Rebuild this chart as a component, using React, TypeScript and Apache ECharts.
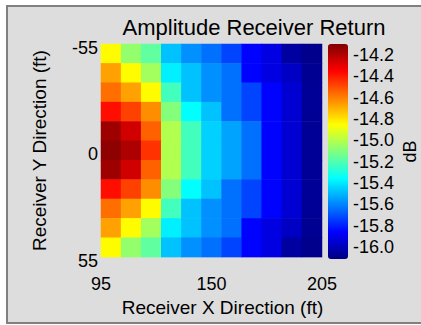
import React, { useEffect, useRef } from "react";
import * as echarts from "echarts";

// Receiver grid positions (ft)
const xValues = [95, 106, 117, 128, 139, 150, 161, 172, 183, 194, 205];
const yValues = [-55, -44, -33, -22, -11, 0, 11, 22, 33, 44, 55];
const xTickLabels = [95, 150, 205];
const colorbarTicks = [-14.2, -14.4, -14.6, -14.8, -15.0, -15.2, -15.4, -15.6, -15.8, -16.0];

// Amplitude (dB); rows from y = -55 (top) to y = 55 (bottom), columns x = 95 .. 205
const rowYm55 = [-14.88, -15.1, -15.2, -15.51, -15.61, -15.67, -15.76, -15.89, -15.95, -16.08, -16.12];
const rowYm44 = [-14.7, -14.88, -15.07, -15.42, -15.51, -15.61, -15.67, -15.89, -15.95, -16.01, -16.11];
const rowYm33 = [-14.6, -14.7, -14.88, -15.26, -15.51, -15.61, -15.67, -15.76, -15.89, -15.98, -16.1];
const rowYm22 = [-14.41, -14.51, -14.66, -15.13, -15.39, -15.51, -15.67, -15.76, -15.89, -15.98, -16.1];
const rowYm11 = [-14.19, -14.29, -14.57, -15.04, -15.26, -15.48, -15.57, -15.67, -15.89, -15.98, -16.1];
const rowY0 = [-14.16, -14.22, -14.48, -15.04, -15.26, -15.48, -15.57, -15.67, -15.89, -15.98, -16.1];
const rowY11 = [-14.19, -14.29, -14.57, -15.04, -15.26, -15.48, -15.57, -15.67, -15.89, -15.98, -16.1];
const rowY22 = [-14.41, -14.51, -14.66, -15.13, -15.39, -15.51, -15.67, -15.76, -15.89, -15.98, -16.1];
const rowY33 = [-14.6, -14.7, -14.88, -15.26, -15.51, -15.61, -15.67, -15.76, -15.89, -15.98, -16.1];
const rowY44 = [-14.7, -14.88, -15.07, -15.42, -15.51, -15.61, -15.67, -15.89, -15.95, -16.01, -16.11];
const rowY55 = [-14.88, -15.1, -15.2, -15.51, -15.61, -15.67, -15.76, -15.89, -15.95, -16.08, -16.12];
const amplitudeRows = [rowYm55, rowYm44, rowYm33, rowYm22, rowYm11, rowY0, rowY11, rowY22, rowY33, rowY44, rowY55];

const colorMin = -16.145;
const colorMax = -14.13;
const jetColors = ["#000080", "#0000ff", "#0080ff", "#00ffff", "#80ff80", "#ffff00", "#ff8000", "#ff0000", "#800000"];

const FONT = "'Liberation Sans', Arial, sans-serif";

export default function App() {
  const ref = useRef<HTMLDivElement>(null);
  useEffect(() => {
    if (!ref.current) return;
    const chart = echarts.init(ref.current, undefined, { renderer: "svg" });
    const data: number[][] = [];
    amplitudeRows.forEach((row, yi) => row.forEach((v, xi) => data.push([xi, yi, v])));
    chart.setOption({
      animation: false,
      backgroundColor: "#dddddd",
      textStyle: { fontFamily: FONT },
      grid: [
        { left: 93, top: 37, width: 221, height: 215, containLabel: false },
        { left: 320, top: 37, width: 20, height: 215, containLabel: false },
      ],
      graphic: [
        {
          type: "text",
          x: 246,
          y: 20,
          style: {
            text: "Amplitude Receiver Return",
            fontSize: 22,
            fontFamily: FONT,
            fill: "#000",
            align: "center",
            verticalAlign: "middle",
          },
        },
      ],
      xAxis: [
        { type: "category", gridIndex: 0, data: xValues.map(String), show: false, position: "top" },
        {
          type: "value",
          gridIndex: 0,
          min: 95,
          max: 205,
          position: "bottom",
          axisLine: { show: false },
          axisTick: { show: false },
          splitLine: { show: false },
          axisLabel: { customValues: xTickLabels, fontSize: 18, color: "#000", margin: 18, fontFamily: FONT },
          name: "Receiver X Direction (ft)",
          nameLocation: "middle",
          nameGap: 28,
          nameTextStyle: { fontSize: 19, color: "#000", fontFamily: FONT, padding: [0, 0, 0, 22] },
        },
        { type: "value", gridIndex: 1, show: false, min: 0, max: 1 },
      ],
      yAxis: [
        { type: "category", gridIndex: 0, data: yValues.map(String), inverse: true, show: false, position: "right" },
        {
          type: "value",
          gridIndex: 0,
          min: -55,
          max: 55,
          interval: 55,
          inverse: true,
          position: "left",
          axisLine: { show: false },
          axisTick: { show: false },
          splitLine: { show: false },
          axisLabel: {
            fontSize: 18,
            color: "#000",
            margin: 3,
            verticalAlign: "top",
            lineHeight: 7,
            fontFamily: FONT,
          },
          name: "Receiver Y Direction (ft)",
          nameLocation: "middle",
          nameGap: 52,
          nameTextStyle: { fontSize: 19, color: "#000", fontFamily: FONT },
        },
        {
          type: "value",
          gridIndex: 1,
          min: colorMin,
          max: colorMax,
          position: "right",
          axisLine: { show: false },
          axisTick: { show: false },
          splitLine: { show: false },
          axisLabel: {
            customValues: colorbarTicks,
            formatter: (v: number) => v.toFixed(1),
            fontSize: 18,
            color: "#000",
            margin: 5,
            verticalAlign: "top",
            lineHeight: 7,
            fontFamily: FONT,
          },
          name: "dB",
          nameLocation: "middle",
          nameGap: 53,
          nameTextStyle: { fontSize: 18, color: "#000", fontFamily: FONT },
        },
      ],
      visualMap: {
        type: "continuous",
        min: colorMin,
        max: colorMax,
        seriesIndex: 0,
        calculable: false,
        hoverLink: false,
        orient: "vertical",
        left: 320,
        top: 37,
        padding: 0,
        itemWidth: 20,
        itemHeight: 215,
        inRange: { color: jetColors },
      },
      series: [
        {
          type: "heatmap",
          xAxisIndex: 0,
          yAxisIndex: 0,
          data,
          itemStyle: { borderWidth: 0 },
          emphasis: { disabled: true },
        },
      ],
    });
    return () => chart.dispose();
  }, []);
  return (
    <div
      style={{
        position: "absolute",
        left: 6,
        top: 5,
        border: "2px solid #808080",
        width: 416,
        height: 315,
        background: "#dddddd",
      }}
    >
      <div ref={ref} style={{ width: 416, height: 315 }} />
    </div>
  );
}
